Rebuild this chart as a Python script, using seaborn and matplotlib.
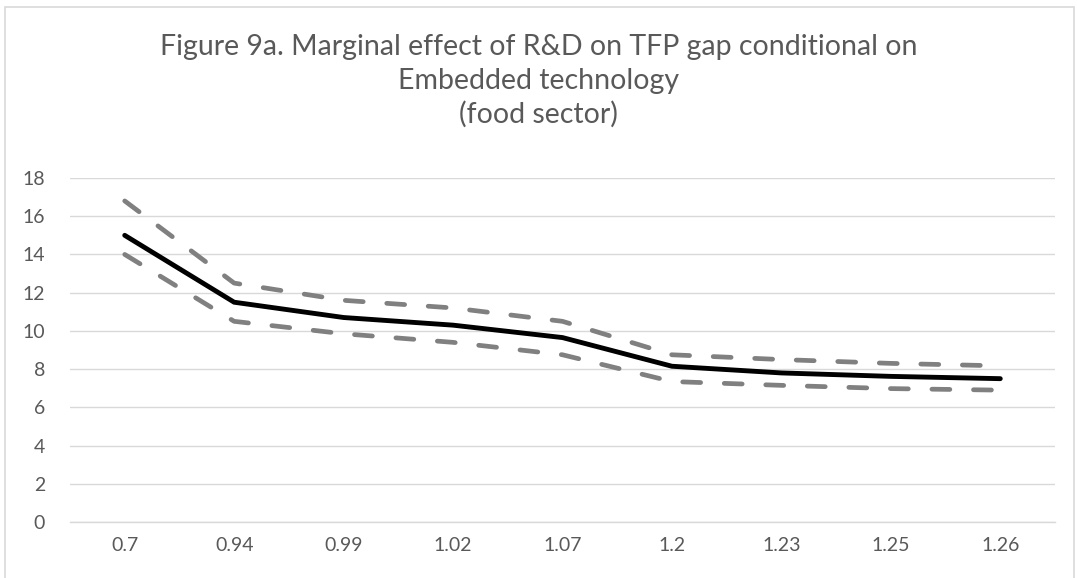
import pandas as pd
import matplotlib.pyplot as plt
import seaborn as sns
from matplotlib.patches import Rectangle

# values
embedded = ['0.7', '0.94', '0.99', '1.02', '1.07', '1.2', '1.23', '1.25', '1.26']
marginal = [15.0, 11.5, 10.7, 10.3, 9.65, 8.15, 7.8, 7.62, 7.5]
upper_ci = [16.8, 12.5, 11.6, 11.2, 10.5, 8.75, 8.5, 8.3, 8.17]
lower_ci = [14.0, 10.5, 9.85, 9.4, 8.75, 7.35, 7.15, 6.98, 6.9]
y_ticks = list(range(0, 19, 2))

df = pd.DataFrame({'x': embedded, 'mid': marginal, 'hi': upper_ci, 'lo': lower_ci})

sns.set_theme(style='white')
plt.rcParams['font.family'] = ['Lato', 'DejaVu Sans']

fig = plt.figure(figsize=(10.77, 5.78), dpi=100)
ax = fig.add_axes([70 / 1077, 1 - 522 / 578, (1055 - 70) / 1077, (522 - 178) / 578])

dash_kw = dict(color='#808080', linewidth=3.4, dash_capstyle='round', sort=False)
sns.lineplot(data=df, x='x', y='hi', ax=ax, **dash_kw)
sns.lineplot(data=df, x='x', y='lo', ax=ax, **dash_kw)
sns.lineplot(data=df, x='x', y='mid', ax=ax, color='black', linewidth=3.5,
             solid_capstyle='round', solid_joinstyle='miter', sort=False)
for ln in ax.lines[:2]:
    ln.set_dashes((3.8, 5.0))

ax.set_xlim(-0.5, len(embedded) - 0.5)
ax.set_ylim(0, 18)
ax.set_yticks(y_ticks)
ax.set_xlabel('')
ax.set_ylabel('')
ax.yaxis.grid(True, color='#d9d9d9', linewidth=1)
ax.set_axisbelow(True)
for side in ['top', 'right', 'left']:
    ax.spines[side].set_visible(False)
ax.spines['bottom'].set_color('#d9d9d9')
ax.spines['bottom'].set_linewidth(1)
ax.tick_params(axis='both', length=0, labelsize=14, labelcolor='#595959')
ax.tick_params(axis='x', pad=11)
ax.tick_params(axis='y', pad=18)

title_kw = dict(ha='center', va='center', fontsize=20.5, color='#595959')
fig.text(0.5, 1 - 47 / 578, 'Figure 9a. Marginal effect of R&D on TFP gap conditional on', **title_kw)
fig.text(0.5, 1 - 81 / 578, 'Embedded technology', **title_kw)
fig.text(0.5, 1 - 114 / 578, '(food sector)', **title_kw)

fig.patches.append(Rectangle((5 / 1077, -0.01), 1069 / 1077, 1 - 7 / 578 + 0.01, transform=fig.transFigure,
                             fill=False, edgecolor='#d9d9d9', linewidth=1.2))

fig.savefig('out.png', dpi=100)
